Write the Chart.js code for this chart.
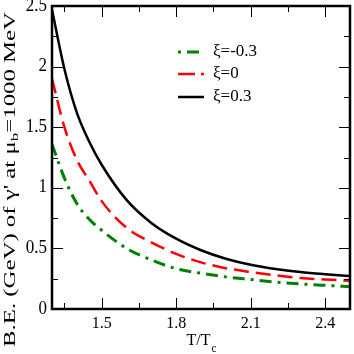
<!DOCTYPE html>
<html>
<head>
<meta charset="utf-8">
<script src="https://cdn.jsdelivr.net/npm/chart.js@4.4.0/dist/chart.umd.min.js"></script>
<style>
  html, body { margin: 0; padding: 0; background: #fff; }
  #wrap { width: 354px; height: 354px; position: relative; }
</style>
</head>
<body>
<div id="wrap"><canvas id="chart"></canvas></div>
<script>
// values
const tRatio = [1.3, 1.35, 1.4, 1.45, 1.5, 1.6, 1.7, 1.8, 1.9, 2.0, 2.1, 2.2, 2.3, 2.4, 2.5];
const beNeg = [1.36, 1.08, 0.87, 0.74, 0.65, 0.50, 0.405, 0.332, 0.295, 0.265, 0.243, 0.222, 0.207, 0.195, 0.184];
const beZero = [1.90, 1.50, 1.23, 1.06, 0.89, 0.67, 0.55, 0.455, 0.385, 0.337, 0.305, 0.278, 0.256, 0.243, 0.233];
const bePos = [2.47, 1.98, 1.62, 1.38, 1.19, 0.90, 0.71, 0.58, 0.485, 0.415, 0.365, 0.33, 0.305, 0.287, 0.272];

const seriesLabels = ["ξ=-0.3", "ξ=0", "ξ=0.3"];
const xMajor = [1.5, 1.8, 2.1, 2.4];
const xMinor = [1.35, 1.65, 1.95, 2.25];
const yMajor = [0, 0.5, 1, 1.5, 2, 2.5];
const yMinor = [0.25, 0.75, 1.25, 1.75, 2.25];

const FONT = "Liberation Serif, Times New Roman, serif";

function toPoints(ys) {
  return tRatio.map((t, i) => ({ x: t, y: ys[i] }));
}

// text helper, with optional vertical stretch
function drawText(ctx, txt, x, y, size, align, sy) {
  ctx.save();
  ctx.font = `${size}px ${FONT}`;
  ctx.textAlign = align;
  ctx.textBaseline = "middle";
  ctx.translate(x, y);
  ctx.scale(1, sy);
  ctx.fillText(txt, 0, 0);
  ctx.restore();
}

const framePlugin = {
  id: "frame",
  afterDraw(chart) {
    const ctx = chart.ctx;
    const a = chart.chartArea;
    const xs = chart.scales.x;
    const ys = chart.scales.y;
    ctx.save();
    ctx.fillStyle = "#000";
    ctx.strokeStyle = "#000";

    // ticks, pointing inwards, mirrored on top/right
    ctx.lineWidth = 1;
    const tick = (x1, y1, x2, y2) => {
      ctx.beginPath();
      ctx.moveTo(x1, y1);
      ctx.lineTo(x2, y2);
      ctx.stroke();
    };
    xMajor.forEach((v) => {
      const px = Math.round(xs.getPixelForValue(v)) + 0.5;
      tick(px, a.bottom, px, a.bottom - 11);
      tick(px, a.top, px, a.top + 11);
    });
    xMinor.forEach((v) => {
      const px = Math.round(xs.getPixelForValue(v)) + 0.5;
      tick(px, a.bottom, px, a.bottom - 6);
      tick(px, a.top, px, a.top + 6);
    });
    yMajor.forEach((v) => {
      const py = Math.round(ys.getPixelForValue(v)) + 0.5;
      tick(a.left, py, a.left + 11, py);
      tick(a.right, py, a.right - 11, py);
    });
    yMinor.forEach((v) => {
      const py = Math.round(ys.getPixelForValue(v)) + 0.5;
      tick(a.left, py, a.left + 6, py);
      tick(a.right, py, a.right - 6, py);
    });

    // frame
    ctx.lineWidth = 2.5;
    ctx.strokeRect(a.left, a.top, a.right - a.left, a.bottom - a.top);

    // tick labels
    xMajor.forEach((v) => {
      drawText(ctx, String(v), xs.getPixelForValue(v), 323.5, 16, "center", 1.0);
    });
    yMajor.forEach((v) => {
      drawText(ctx, String(v), 47, ys.getPixelForValue(v), 17, "right", 1.05);
    });

    // x title T/Tc
    ctx.save();
    ctx.textBaseline = "alphabetic";
    ctx.textAlign = "left";
    ctx.font = `16px ${FONT}`;
    const main = "T/T";
    const w = ctx.measureText(main).width;
    ctx.font = `11px ${FONT}`;
    const ws = ctx.measureText("c").width;
    const x0 = (a.left + a.right) / 2 - (w + ws) / 2;
    ctx.translate(x0, 345);
    ctx.scale(1, 1.1);
    ctx.font = `16px ${FONT}`;
    ctx.fillText(main, 0, 0);
    ctx.font = `11px ${FONT}`;
    ctx.fillText("c", w + 1, 6);
    ctx.restore();

    // y title with subscript b
    ctx.save();
    const p1 = "B.E. (GeV) of γ' at μ";
    const p2 = "b";
    const p3 = "=1000 MeV";
    ctx.font = `16px ${FONT}`;
    const w1 = ctx.measureText(p1).width;
    const w3 = ctx.measureText(p3).width;
    ctx.font = `11px ${FONT}`;
    const w2 = ctx.measureText(p2).width;
    const total = w1 + w2 + w3;
    ctx.translate(14.5, 347);
    ctx.rotate(-Math.PI / 2);
    ctx.scale(335 / total, 1);
    ctx.textBaseline = "alphabetic";
    ctx.textAlign = "left";
    ctx.font = `16px ${FONT}`;
    ctx.fillText(p1, 0, 0);
    ctx.font = `11px ${FONT}`;
    ctx.fillText(p2, w1, 3);
    ctx.font = `16px ${FONT}`;
    ctx.fillText(p3, w1 + w2, 0);
    ctx.restore();

    // legend
    const rows = [52, 74, 97];
    chart.data.datasets.forEach((ds, i) => {
      const y = rows[i];
      ctx.save();
      ctx.strokeStyle = ds.borderColor;
      ctx.lineWidth = ds.borderWidth;
      ctx.setLineDash(ds.legendDash);
      ctx.lineDashOffset = ds.legendOffset;
      ctx.beginPath();
      ctx.moveTo(178, y);
      ctx.lineTo(204, y);
      ctx.stroke();
      ctx.restore();
      drawText(ctx, ds.label, 213, y, 17, "left", 1.0);
    });
    ctx.restore();
  },
};

new Chart(document.getElementById("chart"), {
  type: "line",
  data: {
    datasets: [
      {
        label: seriesLabels[0],
        data: toPoints(beNeg),
        borderColor: "#008000",
        borderWidth: 3,
        borderDash: [12, 6, 3, 6],
        legendDash: [12, 6, 3, 6],
        legendOffset: 18,
      },
      {
        label: seriesLabels[1],
        data: toPoints(beZero),
        borderColor: "#ff0000",
        borderWidth: 2.5,
        borderDash: [15, 7],
        legendDash: [17, 6],
        legendOffset: 0,
      },
      {
        label: seriesLabels[2],
        data: toPoints(bePos),
        borderColor: "#000000",
        borderWidth: 2.5,
        borderDash: [],
        legendDash: [],
        legendOffset: 0,
      },
    ],
  },
  options: {
    responsive: true,
    maintainAspectRatio: false,
    animation: false,
    events: [],
    layout: { padding: { left: 52, top: 6, right: 4, bottom: 45 } },
    elements: {
      point: { radius: 0 },
      line: { cubicInterpolationMode: "monotone", fill: false },
    },
    plugins: { legend: { display: false }, tooltip: { enabled: false } },
    scales: {
      x: { type: "linear", min: 1.3, max: 2.5, display: false },
      y: { type: "linear", min: 0, max: 2.5, display: false },
    },
  },
  plugins: [framePlugin],
});
</script>
</body>
</html>
